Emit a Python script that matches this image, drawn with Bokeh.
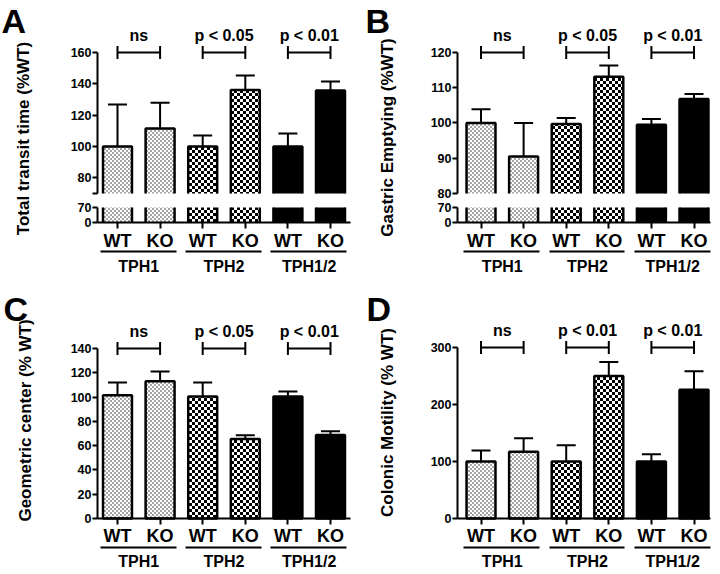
import math, zlib, struct, base64
from bokeh.plotting import figure
from bokeh.models import (Range1d, LinearAxis, FixedTicker, Whisker, TeeHead, Label,
                          ColumnDataSource, ImageURLTexture)
from bokeh.layouts import row, column
from bokeh.core.properties import value
from bokeh.embed import file_html
from bokeh.resources import INLINE

FONT = "Liberation Sans"

# ---------------- data ----------------
groups = ["TPH1", "TPH2", "TPH1/2"]
genotypes = ["WT", "KO", "WT", "KO", "WT", "KO"]

transit_mean = [100, 111.5, 100, 136, 100, 135.8]
transit_err = [26.8, 16.5, 7, 9.3, 8.3, 5.7]
transit_sig = ["ns", "p < 0.05", "p < 0.01"]
transit_ticks = [70, 80, 100, 120, 140, 160]

gastric_mean = [100, 90.5, 99.7, 113.1, 99.5, 106.8]
gastric_err = [3.9, 9.5, 1.7, 3.2, 1.6, 1.4]
gastric_sig = ["ns", "p < 0.05", "p < 0.01"]
gastric_ticks = [80, 90, 100, 110, 120]

geo_mean = [101.5, 113, 100.5, 65.5, 100.5, 68.8]
geo_err = [10.5, 8, 11.5, 3, 4, 3]
geo_sig = ["ns", "p < 0.05", "p < 0.01"]
geo_ticks = [0, 20, 40, 60, 80, 100, 120, 140]

colon_mean = [100, 117, 100, 250, 100, 226]
colon_err = [19.5, 24, 28.5, 24.5, 12.5, 32.5]
colon_sig = ["ns", "p < 0.01", "p < 0.01"]
colon_ticks = [0, 100, 200, 300]

break_ticks = [0, 70]   # lower segment of the broken axes

BAR_W = 0.68


# ---------------- textures (small PNG tiles) ----------------
def png_uri(w, h, fn):
    raw = b""
    for y in range(h):
        raw += b"\x00" + bytes([c for x in range(w) for c in fn(x, y)])

    def chunk(t, d):
        return struct.pack(">I", len(d)) + t + d + struct.pack(">I", zlib.crc32(t + d) & 0xffffffff)

    png = (b"\x89PNG\r\n\x1a\n" + chunk(b"IHDR", struct.pack(">IIBBBBB", w, h, 8, 6, 0, 0, 0))
           + chunk(b"IDAT", zlib.compress(raw)) + chunk(b"IEND", b""))
    return "data:image/png;base64," + base64.b64encode(png).decode()


fine_uri = png_uri(4, 4, lambda x, y: (165, 165, 165, 255) if ((x // 2) + (y // 2)) % 2 == 0 else (255, 255, 255, 255))
check_uri = png_uri(6, 6, lambda x, y: (0, 0, 0, 255) if ((x // 3) + (y // 3)) % 2 == 0 else (255, 255, 255, 255))

tex_fine = ImageURLTexture(url=fine_uri, repetition="repeat")
tex_check = ImageURLTexture(url=check_uri, repetition="repeat")


def style_axis(ax, size="12.5px"):
    ax.axis_line_width = 2
    ax.axis_line_color = "black"
    ax.major_tick_line_width = 2
    ax.major_tick_line_color = "black"
    ax.minor_tick_line_color = None
    ax.major_label_text_font = FONT
    ax.major_label_text_font_style = "bold"
    ax.major_label_text_font_size = size
    ax.major_label_text_color = "black"


def make_panel(letter, ylabel, mean, err, sig, ticks, g, upper_start=None):
    n = len(mean)
    xs = list(range(n))
    p = figure(width=g["W"], height=g["H"], title=None,
               x_range=Range1d(*g["xr"]), y_range=Range1d(*g["yr"]),
               x_axis_location=None, y_axis_location=None,
               output_backend="svg", toolbar_location=None,
               min_border=0)
    p.outline_line_color = None
    p.grid.visible = False
    p.background_fill_color = "white"

    broken = upper_start is not None
    base_range = "default"
    if broken:
        p.extra_y_ranges = {"low": Range1d(*g["low"])}
        base_range = "low"

    # bars
    for gi in range(len(groups)):
        idx = [2 * gi, 2 * gi + 1]
        bx = [xs[i] for i in idx]
        bt = [mean[i] for i in idx]
        kw = dict(width=BAR_W)
        if gi == 0:
            kw.update(fill_color="white", hatch_pattern=dict(value="fine"),
                      hatch_extra={"fine": tex_fine})
        elif gi == 1:
            kw.update(fill_color="white", hatch_pattern=dict(value="checker"),
                      hatch_extra={"checker": tex_check})
        else:
            kw.update(fill_color="black")
        if broken:
            p.vbar(x=bx, top=bt, bottom=upper_start, line_color=None, **kw)
            p.vbar(x=bx, top=70, bottom=0, line_color=None, y_range_name="low", **kw)
        else:
            p.vbar(x=bx, top=bt, bottom=0, line_color="black", line_width=2.5, **kw)

    if broken:
        oxs = [[x - BAR_W / 2, x - BAR_W / 2, x + BAR_W / 2, x + BAR_W / 2] for x in xs]
        oys = [[upper_start, m, m, upper_start] for m in mean]
        p.multi_line(xs=oxs, ys=oys, line_color="black", line_width=2.5)
        sx = [x - BAR_W / 2 for x in xs] + [x + BAR_W / 2 for x in xs]
        p.segment(x0=sx, y0=0, x1=sx, y1=70, line_color="black", line_width=2.5,
                  y_range_name="low")

    # error bars
    esrc = ColumnDataSource(dict(base=xs, lower=mean, upper=[m + e for m, e in zip(mean, err)]))
    p.add_layout(Whisker(source=esrc, base="base", lower="lower", upper="upper",
                         dimension="height", line_width=2, line_color="black",
                         lower_head=None,
                         upper_head=TeeHead(size=19, line_width=2, line_color="black")))

    # significance brackets
    top = ticks[-1]
    bsrc = ColumnDataSource(dict(base=[top] * 3, lower=[0, 2, 4], upper=[1, 3, 5]))
    p.add_layout(Whisker(source=bsrc, base="base", lower="lower", upper="upper",
                         dimension="width", line_width=2, line_color="black",
                         lower_head=TeeHead(size=13, line_width=2, line_color="black"),
                         upper_head=TeeHead(size=13, line_width=2, line_color="black")))
    p.text(x=[0.5, 2.5, 4.5], y=[top] * 3, text=sig, text_align="center",
           text_baseline="alphabetic", y_offset=-17, text_font=value(FONT),
           text_font_style="bold", text_font_size="16px", text_color="black")

    # y axis (upper / only)
    ya = LinearAxis(ticker=FixedTicker(ticks=ticks), fixed_location=g["yax"],
                    bounds=(ticks[0], ticks[-1]))
    style_axis(ya)
    ya.major_tick_out = 5
    ya.major_tick_in = 0
    ya.major_label_standoff = 1
    if broken and ticks[0] == upper_start and upper_start == 70:
        ya.major_label_overrides = {upper_start: ""}
    p.add_layout(ya, "left")

    if broken:
        la = LinearAxis(y_range_name="low", ticker=FixedTicker(ticks=break_ticks),
                        bounds=(0, 70), fixed_location=g["yax"])
        style_axis(la)
        la.major_tick_out = 5
        la.major_tick_in = 0
        la.major_label_standoff = 1
        p.add_layout(la, "left")

    # x axis with genotype labels
    xa = LinearAxis(ticker=FixedTicker(ticks=xs), fixed_location=0, y_range_name=base_range,
                    bounds=(g["yax"], g["xend"]))
    style_axis(xa, "18px")
    xa.major_label_overrides = {x: lab for x, lab in zip(xs, genotypes)}
    xa.major_tick_out = 6
    xa.major_tick_in = 0
    xa.major_label_standoff = 2
    p.add_layout(xa, "below")

    # group labels with underline
    for gi, gname in enumerate(groups):
        c = 2 * gi + 0.5
        ga = LinearAxis(ticker=FixedTicker(ticks=[c]), major_label_overrides={c: gname},
                        bounds=(2 * gi - 0.4, 2 * gi + 1.38), fixed_location=g["under"])
        style_axis(ga, "16px")
        ga.major_tick_line_color = None
        ga.major_tick_out = 0
        ga.major_tick_in = 0
        ga.major_label_standoff = 6
        p.add_layout(ga, "below")

    # panel letter and y title
    p.add_layout(Label(x=g["letter"][0], y=g["letter"][1], x_units="screen", y_units="screen",
                       text=letter, text_font=FONT, text_font_style="bold",
                       text_font_size="34px", text_align="left",
                       text_baseline="alphabetic", text_color="black"))
    p.add_layout(Label(x=g["title"][0], y=g["title"][1], x_units="screen", y_units="screen",
                       text=ylabel, angle=math.pi / 2, text_font=FONT,
                       text_font_style="bold", text_font_size="17px",
                       text_align="center", text_baseline="middle", text_color="black"))
    return p


geom_a = dict(W=360, H=290, xr=(-2.746, 5.704), yr=(8.09, 193.19), low=(-317.3, 1036),
              yax=-0.4695, xend=5.469, under=32.98, letter=(1, 270), title=(23, 152))
geom_b = dict(W=360, H=290, xr=(-2.829, 5.622), yr=(52.48, 134.75), low=(-317.3, 1036),
              yax=-0.5516, xend=5.387, under=63.54, letter=(5, 270), title=(27, 153))
geom_c = dict(W=360, H=284, xr=(-2.746, 5.704), yr=(-46.12, 187.76),
              yax=-0.4695, xend=5.469, under=-23.88, letter=(3, 266), title=(25, 154))
geom_d = dict(W=360, H=284, xr=(-2.829, 5.622), yr=(-98.25, 400),
              yax=-0.5516, xend=5.387, under=-50.88, letter=(6, 266), title=(27, 152))

pa = make_panel("A", "Total transit time (%WT)", transit_mean, transit_err, transit_sig,
                transit_ticks, geom_a, upper_start=70)
pb = make_panel("B", "Gastric Emptying (%WT)", gastric_mean, gastric_err, gastric_sig,
                gastric_ticks, geom_b, upper_start=80)
pc = make_panel("C", "Geometric center (% WT)", geo_mean, geo_err, geo_sig,
                geo_ticks, geom_c)
pd_ = make_panel("D", "Colonic Motility (% WT)", colon_mean, colon_err, colon_sig,
                 colon_ticks, geom_d)

layout = column(row(pa, pb), row(pc, pd_))
open("out.html", "w").write(file_html(layout, INLINE))
